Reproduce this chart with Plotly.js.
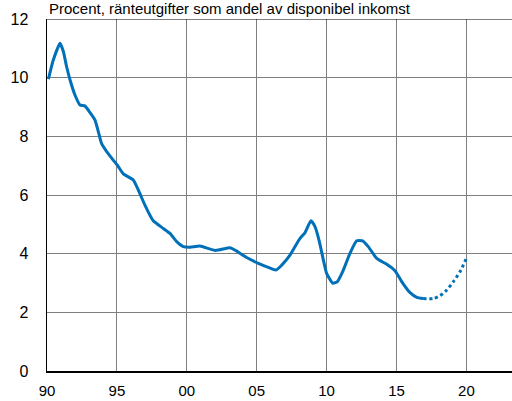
<!DOCTYPE html>
<html>
<head>
<meta charset="utf-8">
<script src="https://cdn.plot.ly/plotly-3.0.1.min.js"></script>
<style>html,body{margin:0;padding:0;background:#fff;}#chart{width:512px;height:401px;}</style>
</head>
<body>
<div id="chart"></div>
<script>
var years = [1990.1,1990.45,1990.93,1991.17,1991.4,1991.65,1992.0,1992.36,1992.72,1993.08,1993.43,1993.67,1993.9,1994.27,1994.74,1995.1,1995.46,1996.17,1996.53,1997.0,1997.6,1998.32,1998.8,1999.28,1999.75,2000.23,2000.94,2002.05,2003.09,2003.45,2004.28,2005.12,2005.83,2006.38,2006.79,2007.38,2008.05,2008.46,2008.88,2009.17,2009.48,2009.77,2010.0,2010.44,2010.77,2011.15,2011.67,2012.15,2012.58,2012.98,2013.58,2014.3,2014.89,2015.37,2015.97,2016.45,2016.9];
var values = [9.95,10.6,11.17,10.89,10.38,9.92,9.41,9.07,9.03,8.81,8.56,8.16,7.76,7.48,7.19,6.97,6.72,6.51,6.17,5.66,5.12,4.86,4.69,4.41,4.24,4.22,4.26,4.11,4.2,4.12,3.87,3.67,3.53,3.44,3.61,3.95,4.49,4.72,5.12,4.92,4.41,3.78,3.33,2.99,3.05,3.39,4.01,4.44,4.44,4.24,3.84,3.64,3.42,3.05,2.67,2.51,2.47];
var forecastYears = [2016.9,2017.64,2018.1,2018.6,2019.07,2019.55,2020.0];
var forecastValues = [2.47,2.47,2.56,2.76,3.05,3.39,3.84];
var xTickVals = [1990,1995,2000,2005,2010,2015,2020];
var xTickText = ['90','95','00','05','10','15','20'];
var yTickVals = [0,2,4,6,8,10,12];
var titleText = 'Procent, ränteutgifter som andel av disponibel inkomst';

var blue = '#0070b8';
var traces = [
  {x: years, y: values, type: 'scatter', mode: 'lines', line: {color: blue, width: 3, shape: 'spline', smoothing: 0.5}, hoverinfo: 'none'},
  {x: forecastYears, y: forecastValues, type: 'scatter', mode: 'lines', line: {color: blue, width: 3, dash: 'dot', shape: 'spline', smoothing: 0.5}, hoverinfo: 'none'}
];
var font = {family: 'Liberation Sans, Arial, sans-serif', size: 16, color: '#000'};
var xfont = {family: 'Liberation Sans, Arial, sans-serif', size: 15, color: '#000'};
var tfont = {family: 'Liberation Sans, Arial, sans-serif', size: 15, color: '#000'};
var layout = {
  width: 512, height: 401,
  margin: {l: 47, r: 0, t: 19, b: 30},
  paper_bgcolor: '#fff', plot_bgcolor: '#fff',
  showlegend: false,
  font: font,
  xaxis: {range: [1990, 2023.26], tickvals: xTickVals, ticktext: xTickText, showgrid: true, gridcolor: '#7f7f7f', gridwidth: 1, zeroline: false, showline: true, linecolor: '#000', linewidth: 1.5, ticks: '', ticklabelstandoff: 5, tickfont: xfont, fixedrange: true},
  yaxis: {range: [0, 12], tickvals: yTickVals, showgrid: true, gridcolor: '#7f7f7f', gridwidth: 1, zeroline: false, showline: true, linecolor: '#000', linewidth: 1.5, ticks: '', ticklabelstandoff: 14, tickfont: font, fixedrange: true},
  shapes: [{type: 'line', xref: 'paper', yref: 'y', x0: 0, x1: 1, y0: 12, y1: 12, line: {color: '#000', width: 1}}],
  annotations: [{text: titleText, xref: 'paper', yref: 'paper', x: 0, y: 1, xanchor: 'left', yanchor: 'bottom', yshift: 0, showarrow: false, font: tfont}]
};
Plotly.newPlot('chart', traces, layout, {staticPlot: true, displayModeBar: false});
</script>
</body>
</html>
